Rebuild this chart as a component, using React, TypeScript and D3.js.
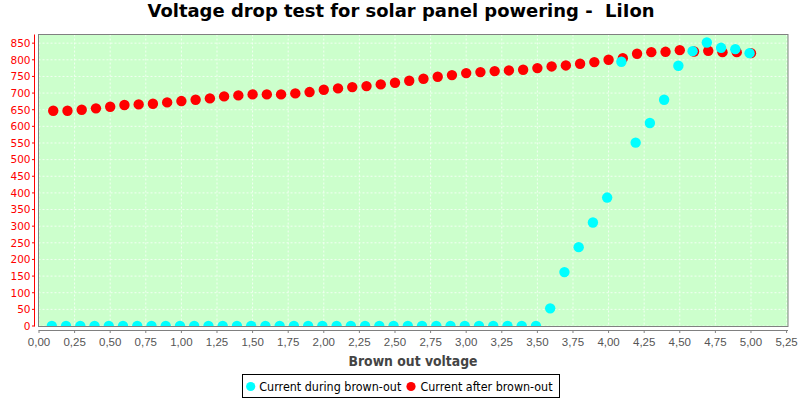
import React from "react";
import * as d3 from "d3";

const TITLE = "Voltage drop test for solar panel powering -  LiIon";
const X_LABEL = "Brown out voltage";
const SERIES_NAMES = ["Current during brown-out", "Current after brown-out"];
const SERIES_COLORS = ["#00ffff", "#ff0000"];

// Series 1: current during brown-out
const duringX = [
  0.09, 0.19, 0.29, 0.39, 0.49, 0.59, 0.69, 0.79, 0.89, 0.99,
  1.09, 1.19, 1.29, 1.39, 1.49, 1.59, 1.69, 1.79, 1.89, 1.99,
  2.09, 2.19, 2.29, 2.39, 2.49, 2.59, 2.69, 2.79, 2.89, 2.99,
  3.09, 3.19, 3.29, 3.39, 3.49, 3.59, 3.69, 3.79, 3.89, 3.99,
  4.09, 4.19, 4.29, 4.39, 4.49, 4.59, 4.69, 4.79, 4.89, 4.99,
];
const duringY = [
  0, 0, 0, 0, 0, 0, 0, 0, 0, 0,
  0, 0, 0, 0, 0, 0, 0, 0, 0, 0,
  0, 0, 0, 0, 0, 0, 0, 0, 0, 0,
  0, 0, 0, 0, 0, 53, 162, 237, 311, 386,
  794, 551, 610, 680, 782, 826, 852, 836, 832, 820,
];

// Series 2: current after brown-out
const afterX = [
  0.1, 0.2, 0.3, 0.4, 0.5, 0.6, 0.7, 0.8, 0.9, 1.0,
  1.1, 1.2, 1.3, 1.4, 1.5, 1.6, 1.7, 1.8, 1.9, 2.0,
  2.1, 2.2, 2.3, 2.4, 2.5, 2.6, 2.7, 2.8, 2.9, 3.0,
  3.1, 3.2, 3.3, 3.4, 3.5, 3.6, 3.7, 3.8, 3.9, 4.0,
  4.1, 4.2, 4.3, 4.4, 4.5, 4.6, 4.7, 4.8, 4.9, 5.0,
];
const afterY = [
  647, 647, 650, 654, 659, 664, 666, 668, 672, 676,
  680, 684, 690, 693, 696, 696, 696, 699, 703, 710,
  714, 718, 721, 726, 731, 737, 743, 749, 754, 760,
  763, 766, 768, 770, 775, 780, 783, 788, 793, 800,
  805, 818, 823, 824, 829, 825, 827, 823, 823, 820,
];

const xTicks = [0, 0.25, 0.5, 0.75, 1, 1.25, 1.5, 1.75, 2, 2.25, 2.5, 2.75, 3, 3.25, 3.5, 3.75, 4, 4.25, 4.5, 4.75, 5, 5.25];
const yTicks = [0, 50, 100, 150, 200, 250, 300, 350, 400, 450, 500, 550, 600, 650, 700, 750, 800, 850];

export default function App() {
  const W = 800, H = 400;
  const L = 38.5, R = 788, T = 34.5, B = 326.5;
  const x = d3.scaleLinear().domain([0, 5.26]).range([39, R]);
  const y = d3.scaleLinear().domain([0, 876]).range([326, T]);
  const fmtX = (v: number) => d3.format(".2f")(v).replace(".", ",");
  const radius = 5.2;

  const after = afterX.map((v, i) => [v, afterY[i]]);
  const during = duringX.map((v, i) => [v, duringY[i]]);

  return (
    <svg width={W} height={H} style={{ position: "absolute", left: 0, top: 0, background: "#fff" }}>
      <defs>
        <clipPath id="plotclip">
          <rect x={L} y={T} width={R - L} height={B - T} />
        </clipPath>
      </defs>
      <text x={401} y={17} textAnchor="middle" fontFamily="DejaVu Sans" fontWeight="bold" fontSize={18} textLength={507} lengthAdjust="spacingAndGlyphs" fill="#000" style={{ whiteSpace: "pre" }}>{TITLE}</text>

      <rect x={L} y={T} width={R - L} height={B - T} fill="#ccffcc" />
      {xTicks.map((t) => (
        <line key={"gx" + t} x1={x(t)} x2={x(t)} y1={T} y2={B} stroke="#ffffff" strokeWidth={1} strokeDasharray="2,2" opacity={0.75} />
      ))}
      {yTicks.map((t) => (
        <line key={"gy" + t} x1={L} x2={R} y1={y(t)} y2={y(t)} stroke="#ffffff" strokeWidth={1} strokeDasharray="2,2" opacity={0.75} />
      ))}

      <g clipPath="url(#plotclip)">
        {after.map(([a, b], i) => (
          <circle key={"a" + i} cx={x(a)} cy={y(b)} r={radius} fill={SERIES_COLORS[1]} />
        ))}
        {during.map(([a, b], i) => (
          <circle key={"d" + i} cx={x(a)} cy={y(b)} r={radius} fill={SERIES_COLORS[0]} />
        ))}
      </g>
      <rect x={L} y={T} width={R - L} height={B - T} fill="none" stroke="#808080" strokeWidth={1} />

      {/* Y axis */}
      <line x1={34.5} x2={34.5} y1={T} y2={B} stroke="#ff0000" strokeWidth={1} />
      {yTicks.map((t) => (
        <g key={"yt" + t}>
          <line x1={32} x2={34.5} y1={y(t)} y2={y(t)} stroke="#ff0000" strokeWidth={1} />
          <text x={30.5} y={y(t) + 3.8} textAnchor="end" fontFamily="DejaVu Sans" fontSize={10.5} fill="#ff0000">{t}</text>
        </g>
      ))}

      {/* X axis */}
      <line x1={L} x2={R} y1={330.5} y2={330.5} stroke="#808080" strokeWidth={1} />
      {xTicks.map((t) => (
        <g key={"xt" + t}>
          <line x1={x(t)} x2={x(t)} y1={330.5} y2={333} stroke="#808080" strokeWidth={1} />
          <text x={x(t)} y={346} textAnchor="middle" fontFamily="Liberation Sans" fontSize={11.5} fill="#555">{fmtX(t)}</text>
        </g>
      ))}
      <text x={413} y={366} textAnchor="middle" fontFamily="DejaVu Sans" fontWeight="bold" fontSize={13.5} textLength={129} lengthAdjust="spacingAndGlyphs" fill="#444">{X_LABEL}</text>

      {/* Legend */}
      <rect x={242.5} y={374.5} width={317} height={23} fill="#fff" stroke="#000" strokeWidth={1} />
      <circle cx={250.7} cy={386.5} r={4.6} fill={SERIES_COLORS[0]} />
      <text x={259.3} y={391} fontFamily="DejaVu Sans" fontSize={12} textLength={142} lengthAdjust="spacingAndGlyphs" fill="#000">{SERIES_NAMES[0]}</text>
      <circle cx={411} cy={386.5} r={4.6} fill={SERIES_COLORS[1]} />
      <text x={420.5} y={391} fontFamily="DejaVu Sans" fontSize={12} textLength={132} lengthAdjust="spacingAndGlyphs" fill="#000">{SERIES_NAMES[1]}</text>
    </svg>
  );
}
